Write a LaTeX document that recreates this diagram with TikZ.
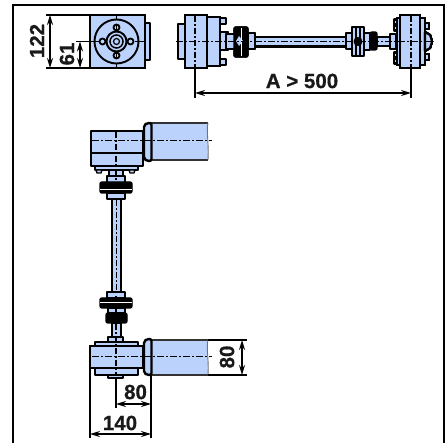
\documentclass[tikz,border=0pt]{standalone}
\usepackage{fontspec}
\setmainfont[BoldFeatures={FakeBold=0.6}]{Liberation Sans}
\usetikzlibrary{arrows.meta}
\definecolor{partblue}{HTML}{BBD2FC}
\tikzset{
  partbox/.style={draw=black,fill=partblue,line width=2.1pt,line join=round},
  solid part/.style={draw=black,fill=black,line width=1.4pt,rounded corners=2pt},
  thick part/.style={draw=black,fill=partblue,line width=2.6pt},
  cline/.style={draw=black,line width=1pt,dash pattern=on 7pt off 2pt on 2pt off 2pt},
  cvert/.style={draw=black,line width=2pt,dash pattern=on 6pt off 2pt on 2pt off 2pt},
  dimext/.style={draw=black,line width=1.7pt},
  dimline/.style={draw=black,line width=1.5pt,{Stealth[length=10pt,width=6pt]}-{Stealth[length=10pt,width=6pt]}},
  dimtext/.style={font=\bfseries\fontsize{20.5}{20.5}\selectfont,inner sep=0pt,text=black!90},
  frameline/.style={draw=black,line width=2.4pt},
  breakedge/.style={draw=black!55,line width=.9pt}
}
\newcommand{\bxx}[5][partbox]{\path[#1] (#2,#3) rectangle (#4,#5);}
\begin{document}
\begin{tikzpicture}[x=1pt,y=-1pt]
\useasboundingbox (0,0) rectangle (447,443);
\path[fill=white] (0,0) rectangle (447,443);
% frame
\draw[frameline] (13,443) -- (13,5) -- (444,5) -- (444,443);

% ---------- end view
\bxx{145}{23}{150}{60}
\bxx[thick part]{90}{15}{145}{68}
\draw[line width=1.9pt] (116.5,41.5) circle (22);
\draw[line width=1.9pt] (116.5,41.5) circle (10);
\draw[line width=1.5pt] (116.5,41.5) circle (6.5);
\draw[line width=1.2pt] (116.5,41.5) circle (3);
\foreach \dx/\dy in {0/-14,0/14,-14/0,14/0}
  \draw[line width=1.8pt] (116.5+\dx,41.5+\dy) circle (3);
\draw[line width=1.6pt] (116.5,15) -- (116.5,19);
\draw[line width=1.6pt] (116.5,24) -- (116.5,30);
\draw[line width=1.6pt] (116.5,53) -- (116.5,59);
\draw[line width=1.6pt] (116.5,64) -- (116.5,68);
\draw[line width=1.6pt] (135,41.5) -- (145,41.5);
% end view dims
\coordinate (e1) at (46,15); \coordinate (e2) at (90,15);
\coordinate (e3) at (46,68); \coordinate (e4) at (90,68);
\coordinate (e5) at (76,41.5); \coordinate (e6) at (100,41.5);
\draw[dimext] (e1) -- (e2) (e3) -- (e4) (e5) -- (e6);
\draw[dimline] (50,15) -- (50,68);
\draw[dimline] (80,41.5) -- (80,68);
\node[dimtext,rotate=90] (d122) at (37,41) {122};
\node[dimtext,rotate=90] (d61) at (67,54) {61};

% ---------- side view (top right)
\bxx{178}{24}{186}{59}
\foreach \y in {21,62} \bxx{220}{\y-3}{226}{\y+3}
\bxx{220}{32}{228}{50}
\bxx[thick part]{185}{15}{207}{68}
\bxx[thick part]{207}{17}{220}{66}
% left coupling
\bxx{226}{34}{235}{49}
\bxx{248}{33}{255}{49}
\bxx[solid part]{234}{27}{248}{57}
\path[fill=partblue] (239,36) -- (243,41) -- (239,46) -- (236,41) -- cycle;
\draw[white,line width=.8pt] (241.5,28) -- (241.5,56);
% shaft
\bxx{255}{37}{346}{46.5}
% right coupling
\bxx{346}{33}{352}{49}
\bxx{352}{27}{364}{56}
\draw[line width=1.9pt] (356,27) -- (356,56) (360,27) -- (360,56);
\fill (358,41.5) circle (4.5);
\bxx{364}{33}{370}{50}
\bxx[solid part]{370}{32}{377}{50}
\bxx{377}{37}{391}{46}
\bxx{390}{34}{396}{49}
\foreach \y in {22,28,55,61} \bxx{394}{\y-2.5}{398}{\y+2.5}
\bxx{397}{18}{401}{65}
\bxx{420}{18}{425}{65}
\foreach \y in {26,57} \bxx{425}{\y-3}{429}{\y+3}
\path[partbox] (425,32) -- (430,35) -- (432,41.5) -- (430,48) -- (425,51) -- cycle;
\bxx[thick part]{400}{15}{420}{68}
% centre lines
\draw[cline] (176,41.5) -- (262,41.5);
\draw[cline] (255,41.5) -- (346,41.5);
\draw[cline] (346,41.5) -- (433,41.5);
\draw[cvert] (195,16) -- (195,67);
\draw[cvert] (411,16) -- (411,67);
% dims
\coordinate (a1) at (195,68); \coordinate (a2) at (195,98);
\coordinate (a3) at (411,68); \coordinate (a4) at (411,98);
\draw[dimext] (a1) -- (a2) (a3) -- (a4);
\draw[dimline] (195,93) -- (411,93);
\node[dimtext] (dA) at (302,81) {A > 500};

% ---------- top view upper
\path[partbox,line width=2.6pt] (91,166) -- (91,131) -- (143,131) -- (143,166) -- cycle;
\draw[line width=2pt] (91,153) -- (143,153);
\bxx{95}{166}{138}{170}
\foreach \x in {99,132} \path[partbox,line width=1.4pt] (\x-3,170) -- (\x+3,170) -- (\x+2,173) -- (\x-2,173) -- cycle;
\bxx{109}{170}{123}{177}
\bxx{107}{176}{125}{183}
\bxx[solid part]{100}{182}{132}{193}
\draw[white,line width=.7pt] (100,189.5) -- (132,189.5);
\bxx{107}{193}{125}{199}
% shaft
\bxx{112}{199}{121}{292}
% lower coupling
\bxx{107}{292}{125}{298}
\bxx[solid part]{100}{298}{132}{308}
\draw[white,line width=.7pt] (100,302) -- (132,302);
\bxx{108}{308}{125}{313}
\bxx[solid part]{106}{313}{127}{323}
\bxx{112}{323}{121}{337}
\bxx{108}{337}{123}{342}
\bxx{95}{342}{138}{346}
\bxx{95}{368}{138}{375}
\bxx{108}{375}{123}{378}
\bxx[thick part]{90}{346}{143}{368}
% motors
\foreach \yt/\yb in {123/160,340/375}{
  \path[fill=partblue] (151,\yt) -- (208,\yt) .. controls (206,\yt+8) and (209,\yt+18) .. (208,\yb) -- (151,\yb) -- cycle;
  \draw[line width=1.8pt,draw=black!80] (151,\yt) -- (207.5,\yt);
  \draw[line width=1.8pt,draw=black!80] (151,\yb) -- (207.5,\yb);
  \draw[breakedge] (208,\yt) .. controls (206,\yt+8) and (209,\yt+18) .. (208,\yb);
}
\path[partbox,rounded corners=2pt,line width=2.4pt] (144,125) -- (147,123) -- (151.5,123) -- (151.5,161) -- (147,161) -- (144,159) -- cycle;
\path[partbox,rounded corners=2pt,line width=2.4pt] (144,341) -- (147,339) -- (151.5,339) -- (151.5,375) -- (147,375) -- (144,373) -- cycle;
% centre lines
\draw[cline] (92,141) -- (212,141);
\draw[cline] (92,357) -- (212,357);
\draw[cvert] (116,132) -- (116,165);
\draw[cvert] (116,170) -- (116,186);
\draw[cvert,line width=1.5pt] (116.5,200) -- (116.5,291);
\draw[cvert] (116,296) -- (116,312);
\draw[cvert] (116,324) -- (116,375);
% dims
\coordinate (b1) at (208,340); \coordinate (b2) at (247,340);
\coordinate (b3) at (208,375); \coordinate (b4) at (247,375);
\draw[dimext] (b1) -- (b2) (b3) -- (b4);
\draw[dimline] (242,340) -- (242,375);
\node[dimtext,rotate=90] (d80r) at (227,357) {80};
\coordinate (c1) at (116,378); \coordinate (c2) at (116,408);
\coordinate (c3) at (151,375); \coordinate (c4) at (151,438);
\coordinate (c5) at (90,368); \coordinate (c6) at (90,438);
\draw[dimext] (c1) -- (c2) (c3) -- (c4) (c5) -- (c6);
\draw[dimline] (116,404) -- (151,404);
\draw[dimline] (90,434) -- (151,434);
\node[dimtext] (d80b) at (135.5,392) {80};
\node[dimtext] (d140) at (120,423) {140};
\end{tikzpicture}
\end{document}
